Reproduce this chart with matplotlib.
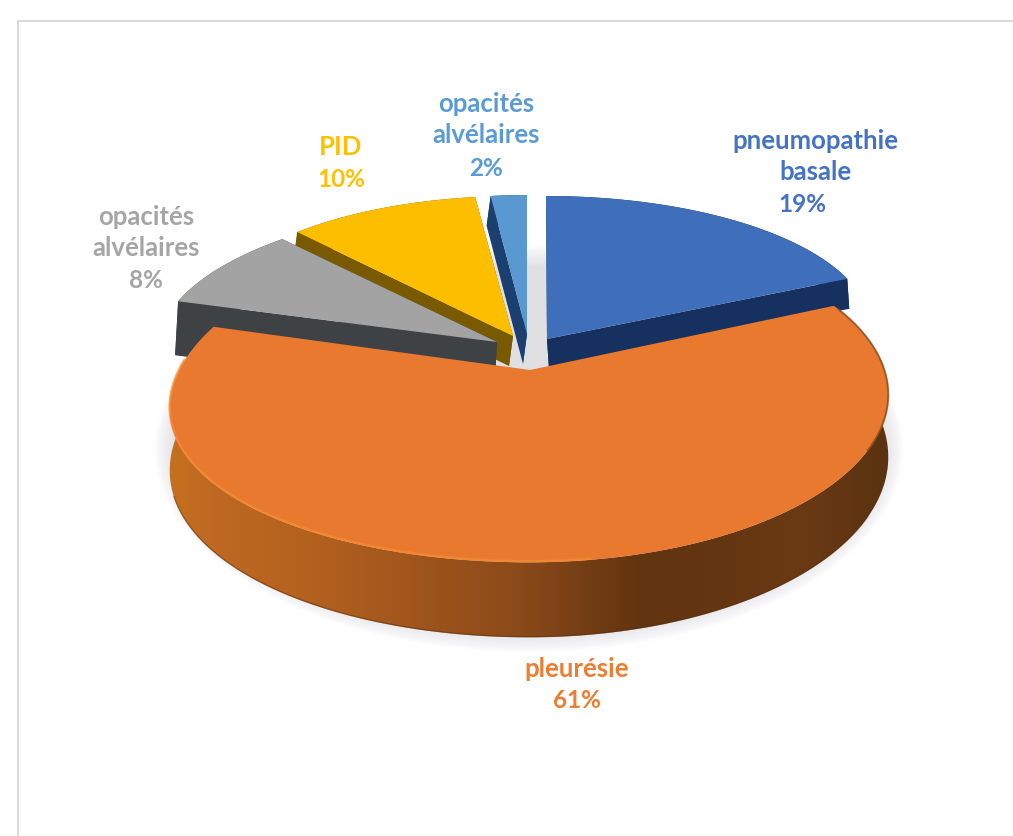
import numpy as np
import matplotlib
matplotlib.use("Agg")
import matplotlib.pyplot as plt
from matplotlib.patches import Polygon, Ellipse
from matplotlib.colors import to_rgb

# --- data
categories = ["pneumopathie basale", "pleurésie", "opacités alvélaires", "PID", "opacités alvélaires"]
values = [19, 61, 8, 10, 2]
label_lines = [["pneumopathie", "basale"], ["pleurésie"], ["opacités", "alvélaires"], ["PID"], ["opacités", "alvélaires"]]

# --- styles
top_colors = ["#3F6FBA", "#E9792F", "#A3A3A3", "#FDBE00", "#5A98D2"]
side_colors = ["#16305F", "#8A4A1A", "#3E4245", "#7A5A00", "#1B4070"]
text_colors = ["#4472C4", "#ED7D31", "#A5A5A5", "#FFC000", "#5B9BD5"]

# --- layout (pixel space): projected ellipse for each slice
ell_cx = [546, 529, 550, 515, 527]
ell_cy = [328, 362, 348, 330, 326]
ell_a = [324, 352, 391, 318, 290]
ell_b = [131, 161, 148, 133, 130]
ell_k = [0.0, 0.2, 0.0, 0.0, 0.0]
ell_sag = [0, 14, 0, 0, 0]
apex_xy = [(547, 340), (530, 371), (497, 343), (513, 337), (527, 335)]
extrude = [(2, 30), (0, 60), (-3, 54), (-4, 30), (-4, 30)]
draw_order = [4, 0, 3, 2]
# label line positions
label_pos = [[(815, 141), (815, 172)], [(577, 669)], [(146, 217), (146, 248)], [(341, 147)], [(486, 104), (486, 135)]]
pct_pos = [(802, 204), (577, 701), (146, 280), (341, 179), (486, 168)]

# side-wall shading of the big slice
grad_x = [170, 200, 300, 400, 520, 640, 700, 800, 890]
grad_c = ["#C4701F", "#C06A22", "#B5621F", "#A3571D", "#8A4A1A", "#62340F", "#633510", "#6A3A14", "#5A3310"]

fig = plt.figure(figsize=(10.13, 8.37), dpi=100)
ax = fig.add_axes([0, 0, 1, 1])
ax.axis("off")
plt.rcParams["font.family"] = ["Lato", "DejaVu Sans"]

# frame of the pasted chart
ax.plot([18, 18], [837, 22], color="#D9D9D9", lw=1.4, zorder=0)
ax.plot([18, 1013], [22, 22], color="#D9D9D9", lw=1.4, zorder=0)

# angles from values
frac = np.array(values, dtype=float) / sum(values) * 360
ends = np.cumsum(frac)
starts = ends - frac


def arc(i, t0, t1, n=160):
    t = np.radians(np.linspace(t0, t1, n))
    s = 1 / (1 + ell_k[i] * np.cos(t))
    x = ell_cx[i] + ell_a[i] * np.sin(t) * s
    y = ell_cy[i] - ell_b[i] * np.cos(t) * s + ell_sag[i] * np.clip(-np.sin(t), 0, 1) ** 2
    return x, y, s


# soft shadow
for j in range(14):
    ax.add_patch(Ellipse((529, 450), 2 * (374 - j * 1.6), 2 * (203 - j * 1.6),
                         facecolor="#C8C8CE", edgecolor="none", alpha=0.045, zorder=1))

z = 2
for i in draw_order:
    x, y, s = arc(i, starts[i], ends[i])
    ax_, ay_ = apex_xy[i]
    dx, dy = extrude[i]
    # radial walls
    for (ex, ey) in [(x[0], y[0]), (x[-1], y[-1])]:
        ax.add_patch(Polygon([(ax_, ay_), (ex, ey), (ex + dx, ey + dy), (ax_ + dx, ay_ + dy)],
                             closed=True, facecolor=side_colors[i], edgecolor="none", zorder=z))
    # outer wall
    ax.add_patch(Polygon(np.r_[np.c_[x, y], np.c_[x[::-1] + dx, y[::-1] + dy]],
                         closed=True, facecolor=side_colors[i], edgecolor="none", zorder=z))
    # top
    ax.add_patch(Polygon(np.r_[[(ax_, ay_)], np.c_[x, y]], closed=True,
                         facecolor=top_colors[i], edgecolor="none", zorder=z + 1))
    z += 2

# big slice, nearest the viewer: side wall as a gradient clipped to its outline
i = 1
x, y, s = arc(i, starts[i], ends[i], n=500)
dy0 = extrude[i][1]
bottom = y + dy0 * s
wall = Polygon(np.r_[np.c_[x, y], np.c_[x[::-1], bottom[::-1]]], closed=True,
               facecolor="none", edgecolor="none", transform=ax.transData, zorder=z)
ax.add_patch(wall)
rgb = np.array([to_rgb(c) for c in grad_c])
xs = np.linspace(150, 910, 380)
strip = np.stack([np.interp(xs, grad_x, rgb[:, c]) for c in range(3)], axis=-1)[None, :, :]
im = ax.imshow(strip, extent=(150, 910, 660, 280), aspect="auto", interpolation="bilinear", zorder=z)
im.set_clip_path(wall)
z += 1
ax.add_patch(Polygon(np.r_[[apex_xy[i]], np.c_[x, y]], closed=True,
                     facecolor=top_colors[i], edgecolor="none", zorder=z))
z += 1
# bevel lights and the dark lower edge
xh, yh, _ = arc(i, 172, 275)
ax.plot(xh, yh - 1, color="#F58B35", lw=1.8, alpha=0.75, zorder=z, solid_capstyle="round")
xd, yd, _ = arc(i, 70, 120)
ax.plot(xd, yd, color="#8A4D1C", lw=1.4, alpha=0.8, zorder=z)
xb, yb, sb = arc(i, 120, 250, n=200)
ax.plot(xb, yb + dy0 * sb - 0.5, color="#5A3010", lw=1.0, alpha=0.5, zorder=z)

# labels
for i in range(len(values)):
    for line, (lx, ly) in zip(label_lines[i], label_pos[i]):
        ax.text(lx, ly, line, color=text_colors[i], fontsize=18.5, fontweight="bold",
                ha="center", va="center", zorder=50)
    ax.text(pct_pos[i][0], pct_pos[i][1], f"{values[i]}%", color=text_colors[i], fontsize=17.5,
            fontweight="bold", ha="center", va="center", zorder=50)

ax.set_xlim(0, 1013)
ax.set_ylim(837, 0)
fig.savefig("out.png", dpi=100)
